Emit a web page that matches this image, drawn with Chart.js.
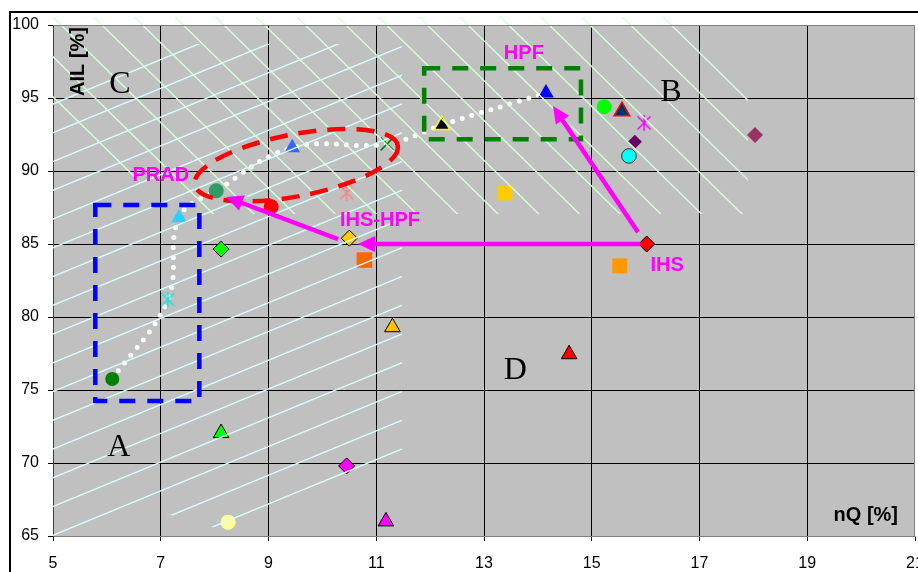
<!DOCTYPE html>
<html>
<head>
<meta charset="utf-8">
<script src="https://cdn.jsdelivr.net/npm/chart.js@4.4.0/dist/chart.umd.min.js"></script>
<style>
html,body{margin:0;padding:0;background:#fff;}
#wrap{width:918px;height:572px;position:relative;}
</style>
</head>
<body>
<div id="wrap"><canvas id="c" width="918" height="572"></canvas></div>
<script>
// ---------- data ----------
const xTicks = [5, 7, 9, 11, 13, 15, 17, 19, 21];
const yTicks = [65, 70, 75, 80, 85, 90, 95, 100];
const xAxisTitle = 'nQ [%]';
const yAxisTitle = 'AIL [%]';

// each point = one method (nQ, AIL)
const methodX = [6.10, 7.13, 7.34, 8.03, 9.44, 11.20, 12.22, 14.15, 9.05, 10.45, 8.12, 10.50, 10.78, 8.12, 10.45, 8.25, 11.18, 11.30, 15.23, 15.56, 15.97, 15.80, 15.69, 18.03, 13.39, 16.02, 15.52, 14.58];
const methodY = [75.75, 81.20, 86.80, 88.65, 91.60, 91.85, 93.15, 95.35, 87.55, 88.50, 84.65, 85.40, 83.90, 72.05, 69.80, 65.95, 66.00, 79.30, 94.40, 94.10, 93.30, 92.00, 91.03, 92.47, 88.50, 85.00, 83.50, 77.45];

// white dotted trend path (nQ, AIL)
const trendX = [6.10, 7.13, 7.34, 8.03, 9.44, 11.20, 12.22, 14.15];
const trendY = [75.75, 81.20, 86.80, 88.65, 91.60, 91.85, 93.15, 95.35];

// ---------- styles (kept apart from the data) ----------
const markerShape = ['circle','asterisk','triangle','circle','triangle','crossRot','triangle','triangle','circle','asterisk','rectRot','rectRot','rect','triangle','rectRot','circle','triangle','triangle','circle','triangle','asterisk','rectRot','circle','rectRot','rect','rectRot','rect','triangle'];
const markerFill  = ['#008000','#22DDDD','#33CCFF','#339966','#3366FF','#008000','#000000','#0000FF','#FF0000','#FF8080','#00FF00','#FFCC00','#FF6600','#00FF00','#FF00FF','#FFFF99','#FF00FF','#FFC000','#00FF00','#003366','#FF00FF','#660066','#00FFFF','#993366','#FFCC00','#FF0000','#FF9900','#FF0000'];
const markerEdge  = [null,null,null,null,null,'#008000','#FFFF00',null,null,null,'#000000','#000000',null,'#000000','#000000',null,'#000000','#000000',null,'#FF0000',null,null,'#333333',null,null,'#000000',null,'#000000'];
const markerSize  = [7,8,9,7.5,9,9,9,9,7.5,8,8,8,11,9,8,7.5,9,9,7.5,9,8,7,7.3,8,10.6,8,10.6,9];

// annotations in data units
const letterLabels = [['A',6.22,71.1],['B',16.47,95.41],['C',6.24,95.96],['D',13.58,76.37]];
const methodLabels = [['PRAD',7.0,89.66],['HPF',13.74,98.08],['IHS-HPF',11.07,86.58],['IHS',16.4,83.56]];
const dashedRects = [{x1:5.785,x2:7.716,y1:74.25,y2:87.67,color:'#0000FF'},{x1:11.89,x2:14.80,y1:92.17,y2:97.03,color:'#008000'}];
const ellipseAxis = {x1:7.63,y1:89.05,x2:11.40,y2:91.75,minorPx:31,color:'#FF0000'};
const arrows = [[15.90,85.00,10.66,85.00],[15.86,85.80,14.28,94.45],[10.29,85.34,8.21,88.22]];
const greenHatch = {poly:[[5,100.55],[16.64,100.55],[17.9,95.55],[17.9,87.05],[7.6,87.05],[5,93.0]], anchor:[5,100.55], slope:0.98, step:39.86, color:'#D4FFD4'};
const cyanHatch  = {poly:[[5,94.86],[7.543,98.70],[11.478,98.70],[11.478,70.55],[8.007,65.55],[7.116,66.51],[5,64.93]], anchor:[5,94.59], slope:-0.412, step:28.75, color:'#D4FFFF'};

// ---------- helpers ----------
function asteriskImg(color){
  const s = 18, c = document.createElement('canvas'); c.width = s; c.height = s;
  const g = c.getContext('2d'); g.strokeStyle = color; g.lineWidth = 1.5;
  const h = s/2, r = 8, d = 6.5;
  g.beginPath();
  g.moveTo(h, h-r); g.lineTo(h, h+r);
  g.moveTo(h-d, h-d); g.lineTo(h+d, h+d);
  g.moveTo(h+d, h-d); g.lineTo(h-d, h+d);
  g.stroke();
  return c;
}
const pointStyles = markerShape.map((s,i)=> s==='asterisk' ? asteriskImg(markerFill[i]) : s);

const SANS = "'Liberation Sans', Arial, sans-serif";
const SERIF = "'Liberation Serif', 'Times New Roman', serif";

const framePlugin = {
  id:'frame',
  beforeDraw(chart){
    const ctx = chart.ctx, a = chart.chartArea;
    ctx.save();
    ctx.fillStyle = '#fff'; ctx.fillRect(0,0,chart.width,chart.height);
    ctx.strokeStyle = '#000'; ctx.lineWidth = 2;
    ctx.strokeRect(10, 12, 2000, 2000);
    ctx.fillStyle = '#C0C0C0';
    ctx.fillRect(a.left, a.top, a.right-a.left, a.bottom-a.top);
    ctx.restore();
  }
};

function hatch(ctx, xs, ys, h){
  const pts = h.poly.map(p=>[xs.getPixelForValue(p[0]), ys.getPixelForValue(p[1])]);
  const ax = xs.getPixelForValue(h.anchor[0]), ay = ys.getPixelForValue(h.anchor[1]);
  ctx.save();
  ctx.beginPath();
  pts.forEach((p,i)=> i ? ctx.lineTo(p[0],p[1]) : ctx.moveTo(p[0],p[1]));
  ctx.closePath(); ctx.clip();
  ctx.strokeStyle = h.color; ctx.lineWidth = 1.4;
  ctx.beginPath();
  for (let k=-60;k<=60;k++){
    const y0 = ay + h.slope*(0-ax) + k*h.step;
    const y1 = ay + h.slope*(918-ax) + k*h.step;
    ctx.moveTo(0,y0); ctx.lineTo(918,y1);
  }
  ctx.stroke();
  ctx.restore();
}

function drawArrow(ctx,x1,y1,x2,y2){
  const ang = Math.atan2(y2-y1,x2-x1), hl = 17, hw = 8;
  const bx = x2 - hl*Math.cos(ang), by = y2 - hl*Math.sin(ang);
  ctx.beginPath(); ctx.moveTo(x1,y1); ctx.lineTo(bx+2*Math.cos(ang),by+2*Math.sin(ang)); ctx.stroke();
  ctx.beginPath();
  ctx.moveTo(x2,y2);
  ctx.lineTo(bx - hw*Math.sin(ang), by + hw*Math.cos(ang));
  ctx.lineTo(bx + hw*Math.sin(ang), by - hw*Math.cos(ang));
  ctx.closePath(); ctx.fill();
}

const overlayPlugin = {
  id:'overlay',
  afterDatasetsDraw(chart){
    const ctx = chart.ctx, xs = chart.scales.x, ys = chart.scales.y, a = chart.chartArea;
    const X = v=>xs.getPixelForValue(v), Y = v=>ys.getPixelForValue(v);
    hatch(ctx, xs, ys, greenHatch);
    hatch(ctx, xs, ys, cyanHatch);

    ctx.save();
    ctx.lineWidth = 4.5; ctx.setLineDash([16,12]);
    dashedRects.forEach(r=>{
      ctx.strokeStyle = r.color;
      ctx.strokeRect(X(r.x1), Y(r.y2), X(r.x2)-X(r.x1), Y(r.y1)-Y(r.y2));
    });
    const ex1 = X(ellipseAxis.x1), ey1 = Y(ellipseAxis.y1), ex2 = X(ellipseAxis.x2), ey2 = Y(ellipseAxis.y2);
    ctx.strokeStyle = ellipseAxis.color; ctx.setLineDash([18,11]);
    ctx.beginPath();
    ctx.ellipse((ex1+ex2)/2,(ey1+ey2)/2, Math.hypot(ex2-ex1,ey2-ey1)/2, ellipseAxis.minorPx, Math.atan2(ey2-ey1,ex2-ex1), 0, Math.PI*2);
    ctx.stroke();
    ctx.setLineDash([]);
    ctx.strokeStyle = '#FF00FF'; ctx.fillStyle = '#FF00FF'; ctx.lineWidth = 4.5;
    arrows.forEach(r=>drawArrow(ctx, X(r[0]),Y(r[1]),X(r[2]),Y(r[3])));
    ctx.font = 'bold 20px ' + SANS; ctx.textAlign='center'; ctx.textBaseline='middle';
    methodLabels.forEach(l=>ctx.fillText(l[0], X(l[1]), Y(l[2])));
    ctx.fillStyle = '#000'; ctx.font = '32px ' + SERIF;
    letterLabels.forEach(l=>ctx.fillText(l[0], X(l[1]), Y(l[2])+1));
    ctx.font = 'bold 20px ' + SANS;
    ctx.textAlign = 'right'; ctx.textBaseline = 'middle';
    ctx.fillText(xAxisTitle, a.right-17, a.bottom-21);
    ctx.save();
    ctx.translate(a.left+25, a.top+2); ctx.rotate(-Math.PI/2);
    ctx.textAlign = 'right';
    ctx.fillText(yAxisTitle, 0, 0);
    ctx.restore();
    ctx.restore();
  }
};

const edgeless = (c)=> (c.tick && (c.tick.value===xTicks[0] || c.tick.value===xTicks[xTicks.length-1] || c.tick.value===yTicks[0] || c.tick.value===yTicks[yTicks.length-1])) ? 'rgba(0,0,0,0)' : '#000';
const noPad = s=>{ s.paddingLeft = 0; s.paddingRight = 0; s.paddingTop = 0; s.paddingBottom = 0; };

new Chart(document.getElementById('c'), {
  type:'scatter',
  data:{datasets:[
    {
      label:'methods',
      data: methodX.map((x,i)=>({x, y:methodY[i]})),
      pointStyle: pointStyles,
      pointRadius: markerSize,
      pointHoverRadius: markerSize,
      backgroundColor: markerFill,
      borderColor: markerEdge.map((e,i)=> e || markerFill[i]),
      borderWidth: markerEdge.map(e=> e ? (e==='#000000'||e==='#333333' ? 1 : 1.5) : 0),
      order:0
    },
    {
      label:'trend',
      type:'line',
      data: trendX.map((x,i)=>({x, y:trendY[i]})),
      borderColor:'#FFFFFF', borderWidth:5, borderDash:[0,10], borderCapStyle:'round',
      tension:0.4, pointRadius:0, fill:false, order:1
    }
  ]},
  options:{
    responsive:false, animation:false, devicePixelRatio:1,
    layout:{padding:{left:0,top:25,right:3,bottom:0}, autoPadding:false},
    plugins:{legend:{display:false}, tooltip:{enabled:false}},
    scales:{
      x:{
        type:'linear', min:xTicks[0], max:xTicks[xTicks.length-1],
        afterBuildTicks:s=>{ s.ticks = xTicks.map(v=>({value:v})); },
        afterFit:s=>{ s.height = 36; noPad(s); },
        ticks:{color:'#000', font:{family:SANS, size:16}, padding:13, maxRotation:0, autoSkip:false},
        grid:{color:edgeless, lineWidth:1, tickLength:5, tickColor:'#000', drawTicks:true},
        border:{display:true, color:'#808080', width:1}
      },
      y:{
        type:'linear', min:yTicks[0], max:yTicks[yTicks.length-1],
        afterBuildTicks:s=>{ s.ticks = yTicks.map(v=>({value:v})); },
        afterFit:s=>{ s.width = 53; noPad(s); },
        ticks:{color:'#000', font:{family:SANS, size:16}, padding:9},
        grid:{color:edgeless, lineWidth:1, tickLength:5, tickColor:'#000', drawTicks:true},
        border:{display:true, color:'#404040', width:1}
      }
    }
  },
  plugins:[framePlugin, overlayPlugin, {
    id:'plotBorder',
    afterDraw(chart){
      const ctx = chart.ctx, a = chart.chartArea;
      ctx.save(); ctx.strokeStyle='#808080'; ctx.lineWidth=1;
      ctx.beginPath();
      ctx.moveTo(a.left+0.5, a.top+0.5); ctx.lineTo(a.right-0.5, a.top+0.5); ctx.lineTo(a.right-0.5, a.bottom);
      ctx.stroke(); ctx.restore();
    }
  }]
});
</script>
</body>
</html>
